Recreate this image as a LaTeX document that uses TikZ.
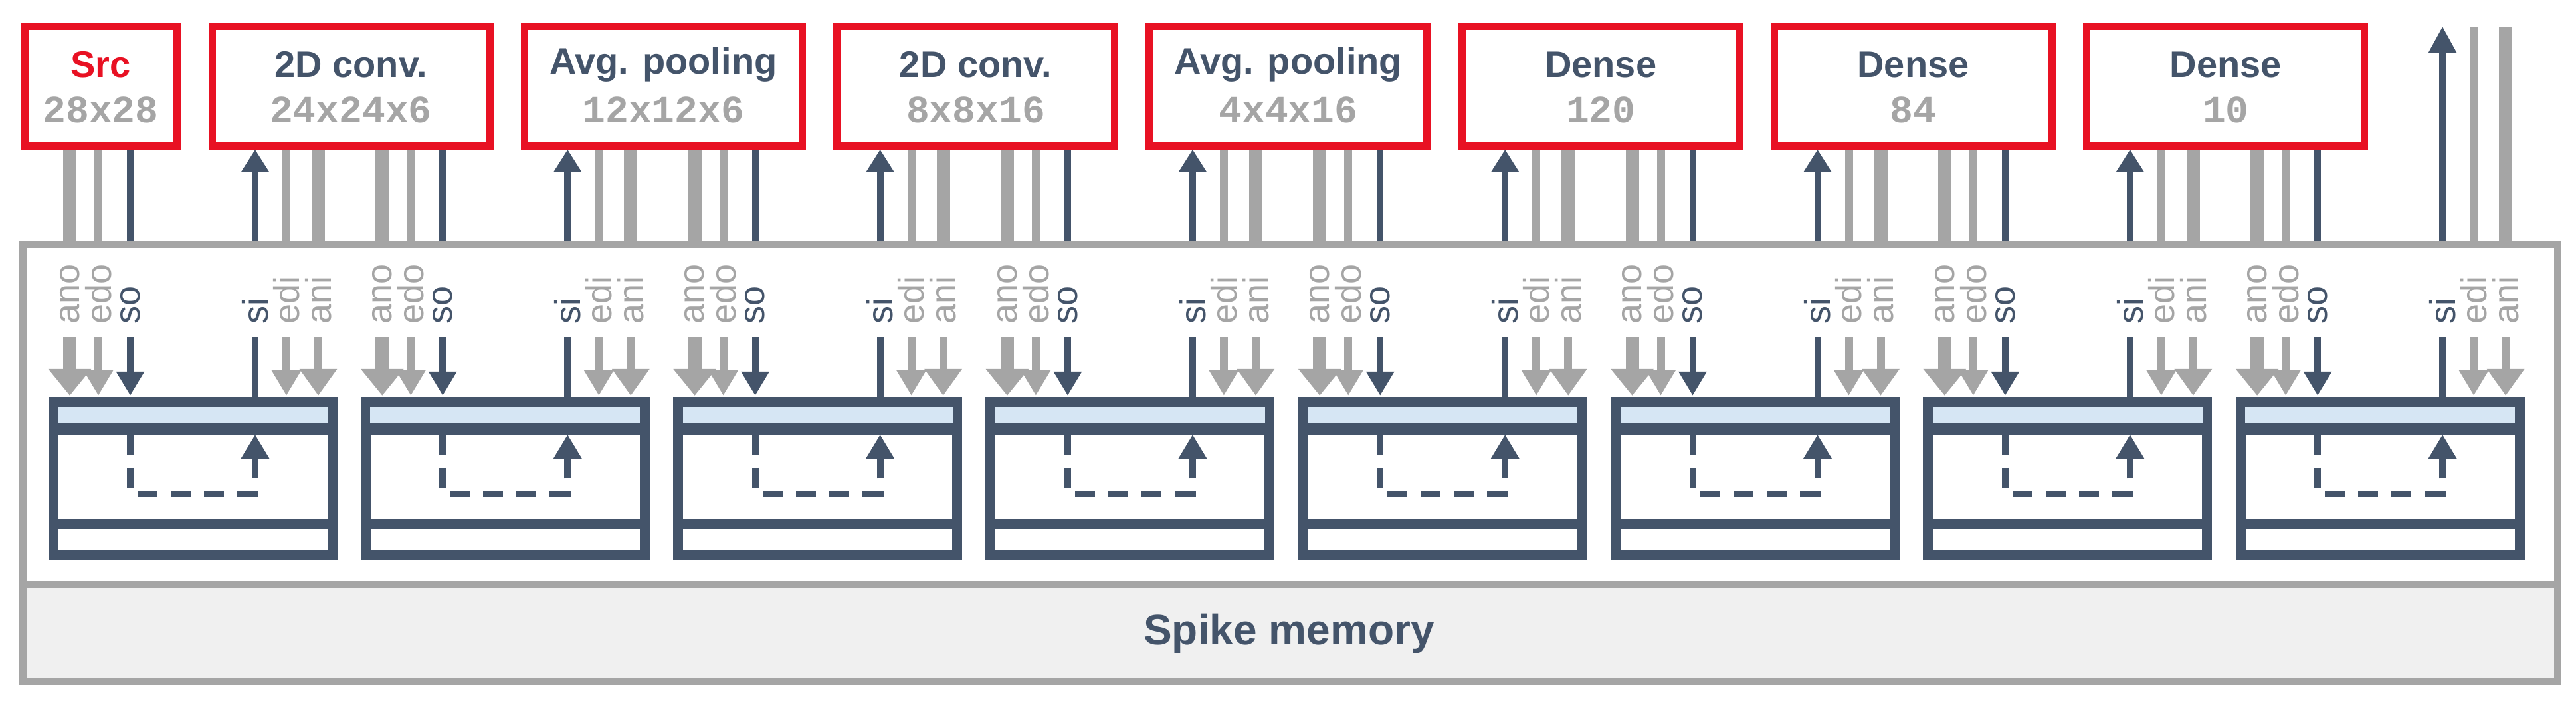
\documentclass[tikz,border=0pt]{standalone}
\usepackage{fontspec}
\setmainfont{Liberation Sans}
\newfontfamily\monof{Liberation Mono}
\usetikzlibrary{arrows.meta}
\definecolor{dk}{HTML}{44546A}
\definecolor{rd}{HTML}{E81123}
\definecolor{gr}{HTML}{A5A5A5}
\definecolor{lb}{HTML}{D6E6F4}
\definecolor{lg}{HTML}{F0F0F0}
\tikzset{
 x=1pt,y=-1.07pt,
 topbox/.style={draw=rd,line width=11pt,fill=white,inner sep=0pt},
 ttl/.style={font=\fontsize{56}{60}\selectfont\bfseries,text=dk},
 num/.style={font=\monof\fontsize{58}{60}\selectfont\bfseries,text=gr},
 lbl/.style={font=\fontsize{54}{58}\selectfont,rotate=90,anchor=west,inner sep=0pt},
 thk/.style={draw=gr,line width=20pt},
 thn/.style={draw=gr,line width=12pt},
 drk/.style={draw=dk,line width=10pt},
 thkA/.style={thk,-{Triangle[width=62pt,length=40pt]}},
 thnA/.style={thn,-{Triangle[width=42pt,length=38pt]}},
 thnA2/.style={thn,-{Triangle[width=54pt,length=40pt]}},
 drkA/.style={drk,-{Triangle[width=40pt,length=36pt]}},
 blk/.style={draw=dk,line width=15pt,fill=white},
}
\begin{document}
\begin{tikzpicture}
\useasboundingbox (0,0) rectangle (3877,1000);
% container
\fill[lg] (34,822) rectangle (3849,958);
\draw[gr,line width=11pt] (34,343) rectangle (3849,958);
\draw[gr,line width=11pt] (34,822) -- (3849,822);
\node[ttl,font=\fontsize{64}{70}\selectfont\bfseries] (mem) at (1940,891) {Spike memory};
% top boxes
\def\titles{{"Src","2D conv.","Avg. pooling","2D conv.","Avg. pooling","Dense","Dense","Dense"}}
\def\nums{{"28x28","24x24x6","12x12x6","8x8x16","4x4x16","120","84","10"}}
\draw[topbox] (37,37) rectangle (266,205);
\node[ttl,text=rd] (t0) at (151.5,91) {Src};
\node[num] (n0) at (151.5,155) {28x28};
\foreach \k in {1,...,7}{
  \pgfmathsetmacro\L{314+470.3*(\k-1)}
  \pgfmathsetmacro\C{\L+214}
  \draw[topbox] (\L+5,37) rectangle (\L+423,205);
  \pgfmathparse{\titles[\k]}\edef\tt{\pgfmathresult}
  \node[ttl] (t\k) at (\C,91) {\tt};
  \pgfmathparse{\nums[\k]}\edef\nn{\pgfmathresult}
  \node[num] (n\k) at (\C,155) {\nn};
}
% blocks
\foreach \i in {0,...,7}{
  \pgfmathsetmacro\L{73+470.3*\i}
  \draw[blk] (\L+7,565) rectangle (\L+427,781);
  \fill[lb] (\L+14,572) rectangle (\L+420,595);
  \draw[dk,line width=17pt] (\L+7,603) -- (\L+427,603);
  \draw[dk,line width=15pt] (\L+7,737) -- (\L+427,737);
  \coordinate (so\i) at (\L+123,611);
  \coordinate (si\i) at (\L+311,611);
  \draw[dk,line width=10pt,dash pattern=on 30pt off 20pt,-{Triangle[width=40pt,length=36pt]}]
     (so\i) -- (\L+123,694) -- (\L+311,694) -- (si\i);
  % internal arrows
  \draw[thkA] (\L+32,474) -- (\L+32,556);
  \draw[thnA] (\L+75,474) -- (\L+75,556);
  \draw[drkA] (\L+123,474) -- (\L+123,556);
  \draw[drk] (\L+311,474) -- (\L+311,558);
  \draw[thnA] (\L+358,474) -- (\L+358,556);
  \draw[thnA2] (\L+406,474) -- (\L+406,556);
  % labels
  \node[lbl,text=gr] at (\L+32,456) {ano};
  \node[lbl,text=gr] at (\L+75,456) {edo};
  \node[lbl,text=dk] at (\L+123,456) {so};
  \node[lbl,text=dk] at (\L+311,456) {si};
  \node[lbl,text=gr] at (\L+358,456) {edi};
  \node[lbl,text=gr] at (\L+406,456) {ani};
  % upper stubs
  \draw[thk] (\L+32,338) -- (\L+32,210);
  \draw[thn] (\L+75,338) -- (\L+75,210);
  \draw[drk] (\L+123,338) -- (\L+123,210);
}
\foreach \i in {0,...,6}{
  \pgfmathsetmacro\L{73+470.3*\i}
  \draw[drk,-{Triangle[width=40pt,length=34pt]}] (\L+311,338) -- (\L+311,210);
  \draw[thn] (\L+358,338) -- (\L+358,210);
  \draw[thk] (\L+406,338) -- (\L+406,210);
}
\pgfmathsetmacro\L{73+470.3*7}
\draw[drk,-{Triangle[width=40pt,length=40pt]}] (\L+311,338) -- (\L+311,37);
\draw[thn] (\L+358,338) -- (\L+358,37);
\draw[thk] (\L+406,338) -- (\L+406,37);
\end{tikzpicture}
\end{document}
